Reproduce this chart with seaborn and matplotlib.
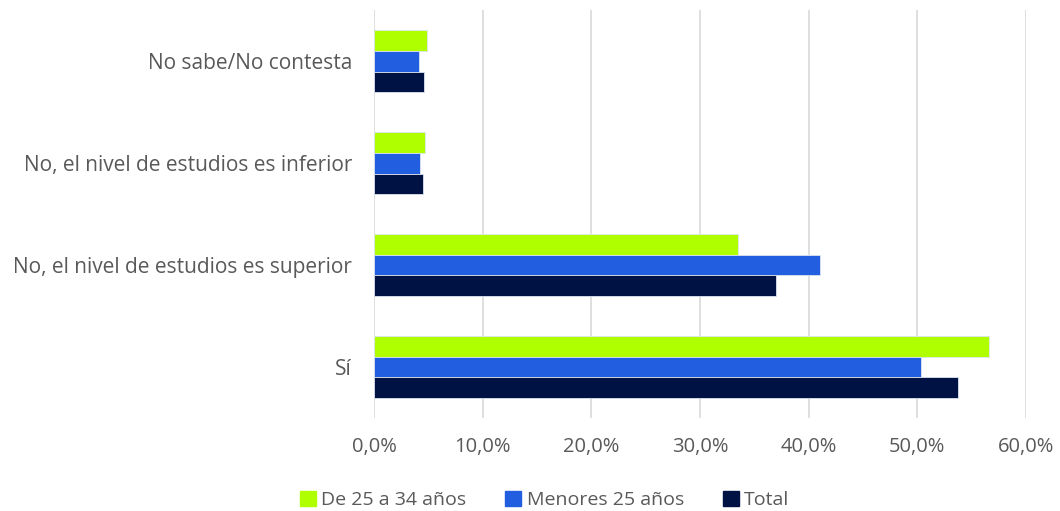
import matplotlib
matplotlib.use("Agg")
import matplotlib.pyplot as plt
import pandas as pd
import seaborn as sns
from matplotlib.ticker import FuncFormatter
from matplotlib.patches import Patch

categorias = ["No sabe/No contesta", "No, el nivel de estudios es inferior",
              "No, el nivel de estudios es superior", "Sí"]
series = ["De 25 a 34 años", "Menores 25 años", "Total"]
de_25_34 = [4.9, 4.7, 33.5, 56.6]
menores_25 = [4.1, 4.2, 41.0, 50.3]
total = [4.6, 4.5, 37.0, 53.7]
colores = ["#b0ff00", "#215ee0", "#001244"]

df = pd.DataFrame({
    "categoria": categorias * 3,
    "serie": [s for s in series for _ in categorias],
    "valor": de_25_34 + menores_25 + total,
})

sns.set_theme(style="white")
plt.rcParams["font.family"] = ["Open Sans", "DejaVu Sans"]
gris = "#595959"

fig = plt.figure(figsize=(10.6, 5.11), dpi=100)
ax = fig.add_axes([0.353, 0.182, 0.615, 0.798])
sns.barplot(data=df, y="categoria", x="valor", hue="serie", order=categorias,
            hue_order=series, palette=colores, saturation=1, orient="h", width=0.61,
            edgecolor="#dde3f0", linewidth=0.6, ax=ax, legend=False, zorder=3)

ax.set_xlim(0, 60)
ax.set_ylim(3.5, -0.5)
ax.set_xticks(range(0, 61, 10))
ax.xaxis.set_major_formatter(FuncFormatter(lambda v, _: f"{v:.1f}%".replace(".", ",")))
ax.grid(axis="x", color="#d9d9d9", linewidth=1.2, zorder=0)
ax.grid(axis="y", visible=False)
for s in ["top", "right", "bottom", "left"]:
    ax.spines[s].set_visible(False)
ax.tick_params(axis="x", length=0, pad=14, labelsize=14.5, labelcolor=gris)
ax.tick_params(axis="y", length=0, pad=16, labelsize=15, labelcolor=gris)
ax.set_xlabel("")
ax.set_ylabel("")

handles = [Patch(facecolor=c, edgecolor=c) for c in colores]
fig.legend(handles, series, loc="lower center", bbox_to_anchor=(0.514, -0.03),
           ncol=3, frameon=False, fontsize=14, labelcolor=gris,
           handlelength=0.8, handleheight=0.8, handletextpad=0.3, columnspacing=2.0)

fig.savefig("out.png", dpi=100)
